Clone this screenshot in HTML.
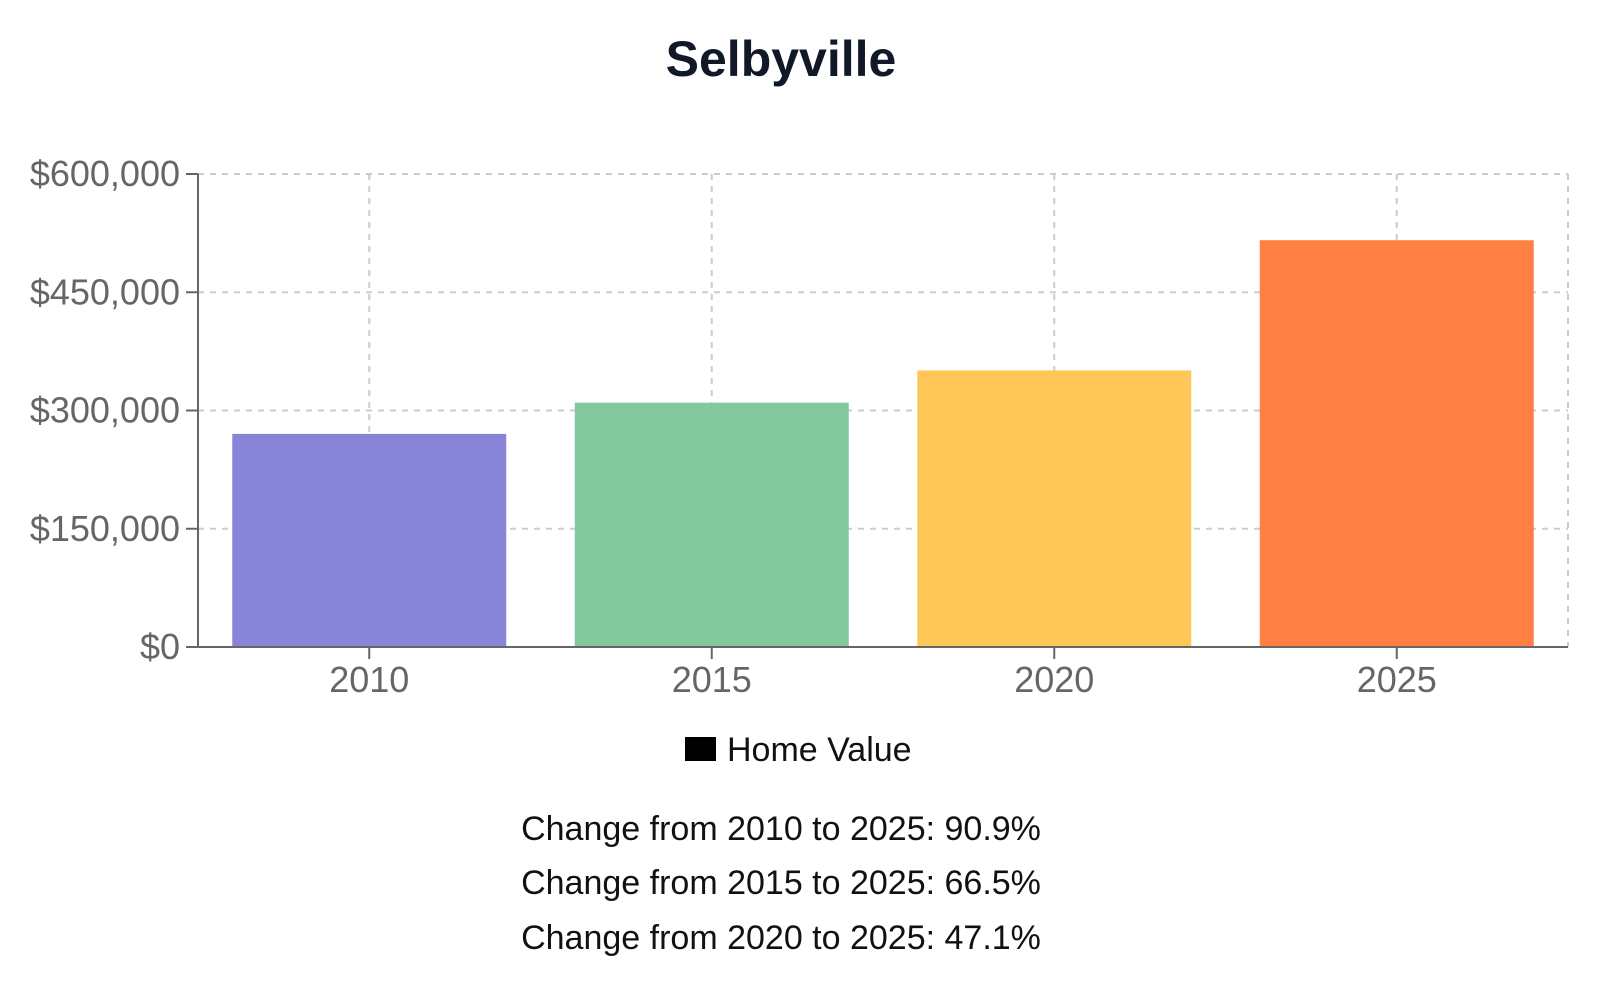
<!DOCTYPE html>
<html><head><meta charset="utf-8"><style>
html,body{margin:0;padding:0;background:#fff;width:1600px;height:998px;overflow:hidden}
svg{display:block;font-family:"Liberation Sans",Arial,sans-serif}
</style></head><body>
<svg id="chart" width="1600" height="998" viewBox="0 0 1600 998">
<text x="781" y="76" text-anchor="middle" font-size="50" font-weight="bold" fill="#111827">Selbyville</text>
<g id="grid"></g>
<g id="bars"></g>
<g id="axes"></g>
<g>
<rect x="685" y="737" width="31" height="24" fill="#000"/>
<text x="727" y="761" font-size="34" fill="#111">Home Value</text>
</g>
<text x="781" y="840" text-anchor="middle" font-size="34" fill="#111">Change from 2010 to 2025: 90.9%</text>
<text x="781" y="894" text-anchor="middle" font-size="34" fill="#111">Change from 2015 to 2025: 66.5%</text>
<text x="781" y="949" text-anchor="middle" font-size="34" fill="#111">Change from 2020 to 2025: 47.1%</text>
</svg>
<script>
const categories = ["2010","2015","2020","2025"];
const values = [270300, 309900, 350800, 516000];
const colors = ["#8884d8","#82ca9d","#ffc658","#ff8042"];
const yTicks = [0,150000,300000,450000,600000];
const yTickLabels = ["$0","$150,000","$300,000","$450,000","$600,000"];

const NS="http://www.w3.org/2000/svg";
const L=198,R=1568,T=174,B=647,yMax=600000;
const y=v=>B-(v/yMax)*(B-T);
const band=(R-L)/categories.length;
const xc=i=>L+band*(i+0.5);
const bw=band*0.8;
function mk(tag,attrs,parent){const e=document.createElementNS(NS,tag);for(const k in attrs)e.setAttribute(k,attrs[k]);parent.appendChild(e);return e;}
const grid=document.getElementById('grid'),bars=document.getElementById('bars'),axes=document.getElementById('axes');
yTicks.forEach((t,i)=>{
  const g=mk('line',{x1:L,x2:R,y1:y(t),y2:y(t),stroke:'#ccc','stroke-dasharray':'6 6','stroke-width':2},grid);
  
  
  const tk=mk('line',{x1:L-12,x2:L,y1:y(t),y2:y(t),stroke:'#666','stroke-width':2},axes);
  
  
  const tx=mk('text',{x:L-18,y:y(t)+12,'text-anchor':'end','font-size':36,fill:'#666'},axes);
  tx.textContent=yTickLabels[i];
  
  
});
categories.forEach((c,i)=>{
  const g=mk('line',{x1:xc(i),x2:xc(i),y1:T,y2:B,stroke:'#ccc','stroke-dasharray':'6 6','stroke-width':2},grid);
  
  
  const b=mk('rect',{x:xc(i)-bw/2,y:y(values[i]),width:bw,height:B-y(values[i]),fill:colors[i]},bars);
  
  
  const tk=mk('line',{x1:xc(i),x2:xc(i),y1:B,y2:B+12,stroke:'#666','stroke-width':2},axes);
  
  
  const tx=mk('text',{x:xc(i),y:B+45,'text-anchor':'middle','font-size':36,fill:'#666'},axes);
  tx.textContent=c;
  
  
});
const rb=mk('line',{x1:R,x2:R,y1:T,y2:B,stroke:'#ccc','stroke-dasharray':'6 6','stroke-width':2},grid);


const ya=mk('line',{x1:L,x2:L,y1:T,y2:B,stroke:'#666','stroke-width':2},axes);


const xa=mk('line',{x1:L,x2:R,y1:B,y2:B,stroke:'#666','stroke-width':2},axes);


</script>
</body></html>
